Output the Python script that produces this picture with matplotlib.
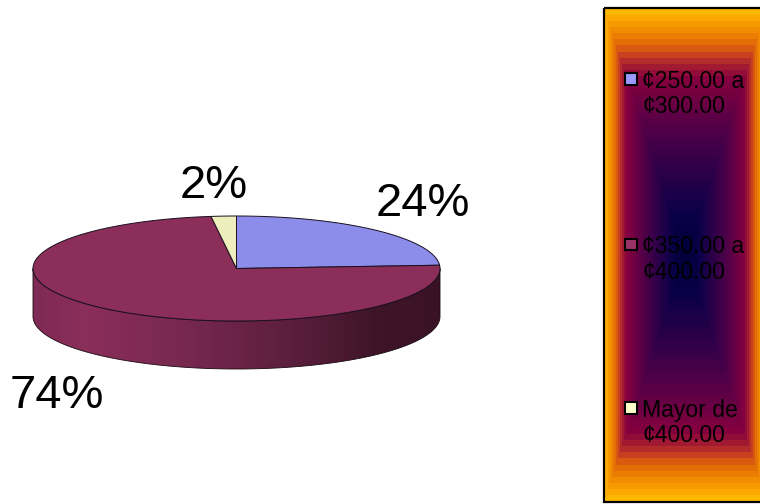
import numpy as np
import matplotlib
matplotlib.use("Agg")
import matplotlib.pyplot as plt
from matplotlib.colors import LinearSegmentedColormap
from matplotlib.patches import Polygon, Rectangle

plt.rcParams['font.family'] = ['Liberation Sans', 'DejaVu Sans']

categories = ['¢250.00 a\n¢300.00', '¢350.00 a\n¢400.00', 'Mayor de\n¢400.00']
values = [24, 74, 2]
labels = ['24%', '74%', '2%']
top_colors = ['#8C8CEA', '#8B2E5A', '#EEEDBC']
key_colors = ['#9999FF', '#993366', '#FFFFCC']

fig = plt.figure(figsize=(7.6, 5.04), dpi=100)
ax = fig.add_axes([0, 0, 1, 1])
ax.set_xlim(0, 760)
ax.set_ylim(504, 0)
ax.axis('off')

# pie geometry (pixels)
cx, cy, a, b, depth = 236.5, 268.5, 203.5, 52.5, 48


def pt(frac):
    th = 2 * np.pi * np.asarray(frac)
    return cx + a * np.sin(th), cy - b * np.cos(th)


# wedge boundaries, clockwise from 12 o'clock
edges = np.concatenate([[0], np.cumsum(values)]) / np.sum(values)

# side wall with horizontal gradient
fr = np.linspace(0.25, 0.75, 200)
x, y = pt(fr)
side = np.vstack([np.c_[x, y], np.c_[x[::-1], y[::-1] + depth]])
side_patch = Polygon(side, closed=True, fc='none', ec='none')
ax.add_patch(side_patch)
side_cmap = LinearSegmentedColormap.from_list('side', [
    (0.0, '#7E2A54'), (0.12, '#8A2E5A'), (0.35, '#7A2950'),
    (0.6, '#5F2040'), (0.85, '#3E1428'), (1.0, '#3A1226')])
im = ax.imshow(np.linspace(1, 0, 256)[None, :], extent=(cx + a, cx - a, cy + b + depth, cy),
               cmap=side_cmap, aspect='auto', zorder=1, interpolation='bilinear')
im.set_clip_path(side_patch)
ax.add_patch(Polygon(side, closed=True, fc='none', ec='#1a0a12', lw=0.6, zorder=2))

# top wedges
for i, c in enumerate(top_colors):
    fr = np.linspace(edges[i], edges[i + 1], 200)
    x, y = pt(fr)
    verts = np.vstack([[cx, cy], np.c_[x, y]])
    ax.add_patch(Polygon(verts, closed=True, fc=c, ec='#1a1020', lw=0.7, zorder=3))

# percent labels
for (lx, ly), s in zip([(423, 203.5), (57, 395.5), (214, 186.5)], labels):
    ax.text(lx, ly, s, fontsize=34, ha='center', va='center', color='black', zorder=5)

# legend panel with stepped rectangular gradient
L, T, R, B = 604, 8, 768, 502
grad_cmap = LinearSegmentedColormap.from_list('panel', [
    (0.0, '#000038'), (0.15, '#0A0048'), (0.32, '#2A0048'), (0.5, '#4E0048'),
    (0.72, '#85003F'), (0.78, '#A82030'), (0.82, '#C84020'), (0.86, '#E06808'),
    (0.93, '#F59000'), (1.0, '#FFB800')], N=40)
gx = np.abs(np.linspace(-1, 1, 328))
gy = np.abs(np.linspace(-1, 1, 494))
grid = np.maximum(gx[None, :], gy[:, None])
ax.imshow(grid, extent=(L, R, B, T), cmap=grad_cmap, vmin=0, vmax=1, aspect='auto',
          zorder=1, interpolation='nearest')
ax.set_xlim(0, 760)
ax.set_ylim(504, 0)
ax.add_patch(Rectangle((L, T), R - L, B - T, fc='none', ec='black', lw=1.6, zorder=4))

# legend entries
for yk, s, c in zip([78.5, 244, 407.5], categories, key_colors):
    ax.add_patch(Rectangle((625, yk - 5.5), 11.5, 11.5, fc=c, ec='black', lw=1.5, zorder=5))
    ax.text(642, yk + 15.5, s, fontsize=16.6, ha='left', va='center', color='black',
            linespacing=1.16, zorder=5)

fig.savefig('out.png', dpi=100)
